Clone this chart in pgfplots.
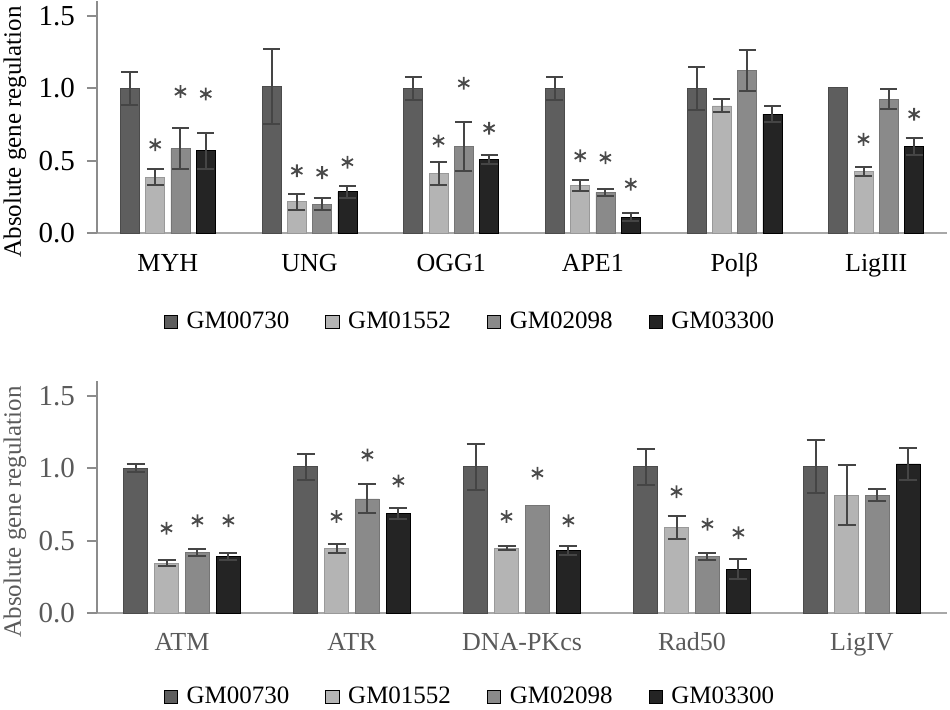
\documentclass[border=0pt]{standalone}
\usepackage{fontspec}
\setmainfont{Liberation Serif}
\usepackage{pgfplots}
\pgfplotsset{compat=1.18}
\definecolor{cA}{HTML}{5E5E5E}
\definecolor{cB}{HTML}{B4B4B4}
\definecolor{cC}{HTML}{8A8A8A}
\definecolor{cD}{HTML}{242424}
\definecolor{errc}{HTML}{454545}
\definecolor{axc}{HTML}{8C8C8C}
\definecolor{xac}{HTML}{A8A8A8}
\definecolor{starc}{HTML}{4A4A4A}
\definecolor{lowtxt}{HTML}{5A5A5A}
\pgfplotsset{
  errs/.style={draw=none, mark=none, forget plot,
    error bars/.cd, y dir=both, y explicit,
    error bar style={draw=errc, line width=1pt},
    error mark options={rotate=90, mark size=#1, draw=errc, line width=1pt}},
  errs/.default=4.2pt,
  stars/.style={only marks, mark=asterisk, mark size=3.2pt, mark options={draw=starc, line width=0.9pt}, forget plot},
}
\pgfplotsset{
 panel/.style={
  scale only axis, width=425pt, height=115.8pt,
  ymin=0, ymax=1.6, ytick={0,0.5,1,1.5},
  axis x line*=bottom, axis y line*=left,
  x axis line style={-, draw=xac, line width=1pt},
  y axis line style={-, draw=axc, line width=1pt},
  ytick style={draw=axc, line width=1pt},
  tick align=outside, major tick length=5pt,
  xtick style={draw=none},
  /pgf/number format/assume math mode=true,
  yticklabel style={font=\fontsize{14.5}{16}\selectfont, xshift=-2.5pt, /pgf/number format/.cd, fixed, fixed zerofill, precision=1},
  xticklabel style={font=\fontsize{13}{15}\selectfont, anchor=base, yshift=-14pt},
  ylabel={Absolute gene regulation},
  ylabel style={at={(axis description cs:0,0.437)}, anchor=center, yshift=41pt, font=\fontsize{12.5}{14}\selectfont},
  legend columns=4,
  legend image code/.code={\fill[##1] (0pt,-3.3pt) rectangle (6.6pt,3.3pt); \path (9pt,0pt);},
  legend style={draw=none, font=\fontsize{12.5}{14}\selectfont, anchor=center,
    /tikz/every even column/.append style={column sep=16pt}},
 }
}
\begin{document}
\begin{tikzpicture}
\useasboundingbox (0,0) rectangle (475pt,354.5pt);
% ---------------- top panel ----------------
\begin{axis}[panel, at={(48.5pt,238pt)}, anchor=south west,
  xmin=-0.5, xmax=5.5, xtick={0,...,5},
  xticklabels={MYH,UNG,OGG1,APE1,Polβ,LigIII},
  legend style={at={(0.44,-0.384)}}]
\addplot[ybar, bar width=0.134, bar shift=-0.268, fill=cA, draw=cA!80!black, forget plot]
 coordinates {(0,1.0) (1,1.01) (2,1.0) (3,1.0) (4,1.0) (5,1.005)};
\addplot[ybar, bar width=0.134, bar shift=-0.089, fill=cB, draw=cB!85!black, forget plot]
 coordinates {(0,0.385) (1,0.216) (2,0.413) (3,0.327) (4,0.878) (5,0.424)};
\addplot[ybar, bar width=0.134, bar shift=0.089, fill=cC, draw=cC!85!black, forget plot]
 coordinates {(0,0.583) (1,0.2) (2,0.597) (3,0.281) (4,1.122) (5,0.924)};
\addplot[ybar, bar width=0.134, bar shift=0.268, fill=cD, draw=black, forget plot]
 coordinates {(0,0.569) (1,0.285) (2,0.509) (3,0.11) (4,0.822) (5,0.597)};
% error bars (at the bar centres)
\addplot[errs] coordinates {(-0.268,1.0) +- (0,0.115) (0.732,1.01) +- (0,0.26) (1.732,1.0) +- (0,0.08) (2.732,1.0) +- (0,0.08) (3.732,1.0) +- (0,0.15)};
\addplot[errs] coordinates {(-0.089,0.385) +- (0,0.055) (0.911,0.216) +- (0,0.055) (1.911,0.413) +- (0,0.08) (2.911,0.327) +- (0,0.04) (3.911,0.878) +- (0,0.045) (4.911,0.424) +- (0,0.03)};
\addplot[errs] coordinates {(0.089,0.583) +- (0,0.14) (1.089,0.2) +- (0,0.04) (2.089,0.597) +- (0,0.17) (3.089,0.281) +- (0,0.025) (4.089,1.122) +- (0,0.14) (5.089,0.924) +- (0,0.07)};
\addplot[errs] coordinates {(0.268,0.569) +- (0,0.125) (1.268,0.285) +- (0,0.04) (2.268,0.509) +- (0,0.03) (3.268,0.11) +- (0,0.03) (4.268,0.822) +- (0,0.055) (5.268,0.597) +- (0,0.057)};
\addplot[stars] coordinates {
 (-0.089,0.61) (0.089,0.977) (0.268,0.96)
 (0.911,0.43) (1.089,0.417) (1.268,0.489)
 (1.911,0.636) (2.089,1.034) (2.268,0.724)
 (2.911,0.534) (3.089,0.52) (3.268,0.337)
 (4.911,0.647) (5.268,0.82)};
\addlegendimage{fill=cA}\addlegendentry{GM00730}
\addlegendimage{fill=cB}\addlegendentry{GM01552}
\addlegendimage{fill=cC}\addlegendentry{GM02098}
\addlegendimage{fill=cD}\addlegendentry{GM03300}
\end{axis}
% ---------------- bottom panel ----------------
\begin{axis}[panel, at={(48.5pt,48pt)}, anchor=south west,
  xmin=-0.5, xmax=4.5, xtick={0,...,4},
  xticklabels={ATM,ATR,DNA-PKcs,Rad50,LigIV},
  tick label style={text=lowtxt},
  ylabel style={text=lowtxt},
  xticklabel style={yshift=0.5pt},
  legend style={at={(0.44,-0.363)}}]
\addplot[ybar, bar width=0.141, bar shift=-0.273, fill=cA, draw=cA!80!black, forget plot]
 coordinates {(0,1.0) (1,1.011) (2,1.011) (3,1.011) (4,1.011)};
\addplot[ybar, bar width=0.141, bar shift=-0.091, fill=cB, draw=cB!85!black, forget plot]
 coordinates {(0,0.345) (1,0.444) (2,0.447) (3,0.59) (4,0.815)};
\addplot[ybar, bar width=0.141, bar shift=0.091, fill=cC, draw=cC!85!black, forget plot]
 coordinates {(0,0.419) (1,0.788) (2,0.744) (3,0.389) (4,0.815)};
\addplot[ybar, bar width=0.141, bar shift=0.273, fill=cD, draw=black, forget plot]
 coordinates {(0,0.389) (1,0.686) (2,0.43) (3,0.302) (4,1.03)};
% error bars (at the bar centres)
\addplot[errs=4.5pt] coordinates {(-0.273,1.0) +- (0,0.028) (0.727,1.011) +- (0,0.09) (1.727,1.011) +- (0,0.16) (2.727,1.011) +- (0,0.125) (3.727,1.011) +- (0,0.185)};
\addplot[errs=4.5pt] coordinates {(-0.091,0.345) +- (0,0.018) (0.909,0.444) +- (0,0.03) (1.909,0.447) +- (0,0.015) (2.909,0.59) +- (0,0.08) (3.909,0.815) +- (0,0.21)};
\addplot[errs=4.5pt] coordinates {(0.091,0.419) +- (0,0.025) (1.091,0.788) +- (0,0.1) (3.091,0.389) +- (0,0.025) (4.091,0.815) +- (0,0.04)};
\addplot[errs=4.5pt] coordinates {(0.273,0.389) +- (0,0.025) (1.273,0.686) +- (0,0.04) (2.273,0.43) +- (0,0.03) (3.273,0.302) +- (0,0.07) (4.273,1.03) +- (0,0.11)};
\addplot[stars] coordinates {
 (-0.091,0.585) (0.091,0.638) (0.273,0.638)
 (0.909,0.666) (1.091,1.092) (1.273,0.912)
 (1.909,0.666) (2.091,0.965) (2.273,0.638)
 (2.909,0.838) (3.091,0.613) (3.273,0.555)};
\addlegendimage{fill=cA}\addlegendentry{GM00730}
\addlegendimage{fill=cB}\addlegendentry{GM01552}
\addlegendimage{fill=cC}\addlegendentry{GM02098}
\addlegendimage{fill=cD}\addlegendentry{GM03300}
\end{axis}
\end{tikzpicture}
\end{document}
